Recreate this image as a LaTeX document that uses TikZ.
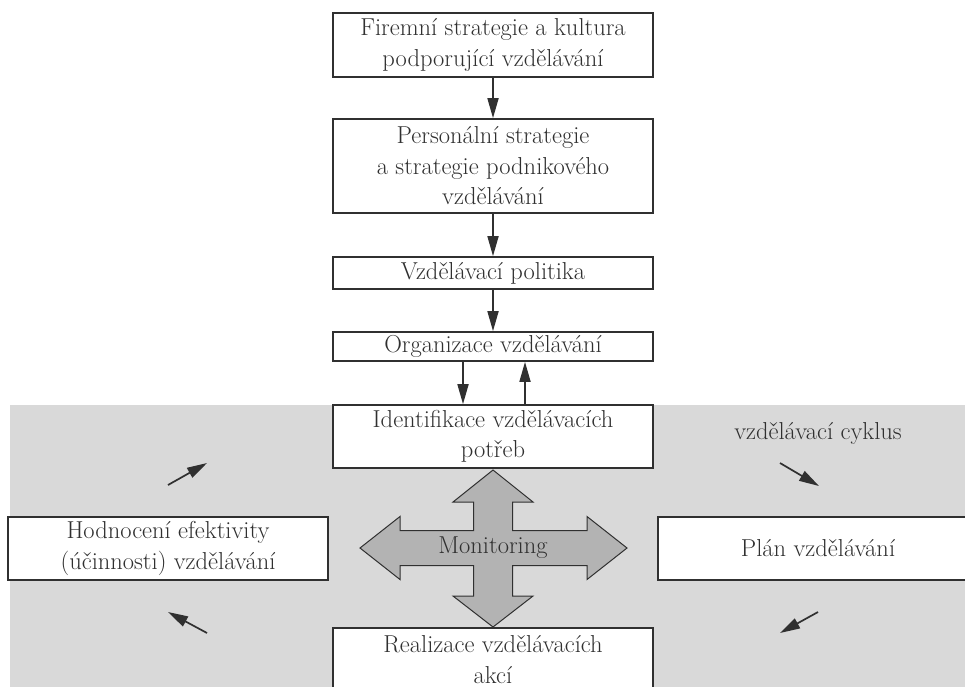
\documentclass[tikz,border=0pt]{standalone}
\usetikzlibrary{arrows.meta}
\definecolor{ink}{HTML}{303030}
\definecolor{cyclebg}{HTML}{D9D9D9}
\definecolor{crossfill}{HTML}{B3B3B3}

\begin{document}
\begin{tikzpicture}[x=1pt,y=-1pt,
  txt/.style={text=ink, font=\fontsize{24.5}{30.5}\selectfont, align=center, inner sep=0pt},
  box/.style={txt, draw=ink, line width=1.7pt, fill=white, minimum width=320pt},
  flow/.style={draw=ink, line width=1.7pt, -{Triangle[length=20pt,width=11pt]}},
  crossarrow/.style={draw=ink, line width=1pt, fill=crossfill, line join=miter},
]
\useasboundingbox (0,0) rectangle (965,686);
\clip (0,0) rectangle (965,686);

% shaded area of the training cycle
\fill[cyclebg] (10,405) rectangle (1000,720);

% top chain of boxes
\node[box, minimum height=64pt] (b1) at (493,45) {Firemní strategie a kultura\\podporující vzdělávání};
\node[box, minimum height=94pt] (b2) at (493,166) {Personální strategie\\a strategie podnikového\\vzdělávání};
\node[box, minimum height=32pt] (b3) at (493,273) {Vzdělávací politika};
\node[box, minimum height=29pt] (b4) at (493,346.5) {Organizace vzdělávání};

% the cycle
\node[box, minimum height=63pt] (ident) at (493,436.5) {Identifikace vzdělávacích\\potřeb};
\node[box, minimum height=63pt] (plan) at (818,548.5) {Plán vzdělávání};
\node[box, minimum height=63pt] (real) at (493,659.5) {Realizace vzdělávacích\\akcí};
\node[box, minimum height=63pt] (eval) at (168,548.5) {Hodnocení efektivity\\(účinnosti) vzdělávání};
\node[txt] (cycle) at (818,433) {vzdělávací cyklus};

% connectors of the chain
\draw[flow] (b1.south) -- (b2.north);
\draw[flow] (b2.south) -- (b3.north);
\draw[flow] (b3.south) -- (b4.north);
\draw[flow] ([xshift=-30pt]b4.south) -- ([xshift=-30pt]ident.north);
\draw[flow] ([xshift=32pt]ident.north) -- ([xshift=32pt]b4.south);

% direction marks of the cycle
\coordinate (trA) at (780,463); \coordinate (trB) at (819,486);
\coordinate (brA) at (818,612); \coordinate (brB) at (780,633);
\coordinate (blA) at (207,633); \coordinate (blB) at (168,612);
\coordinate (tlA) at (168,485); \coordinate (tlB) at (207,463);
\draw[flow] (trA) -- (trB);
\draw[flow] (brA) -- (brB);
\draw[flow] (blA) -- (blB);
\draw[flow] (tlA) -- (tlB);

% four-way monitoring arrow
\begin{scope}[shift={(493,548)}]
\draw[crossarrow]
  (0,-78) -- (40,-46) -- (19.5,-46) -- (19.5,-17.5) -- (94,-17.5) -- (94,-31.5)
  -- (134,0) -- (94,31.5) -- (94,17.5) -- (19.5,17.5) -- (19.5,48) -- (40,48)
  -- (0,79) -- (-40,48) -- (-19.5,48) -- (-19.5,17.5) -- (-93,17.5) -- (-93,31.5)
  -- (-133,0) -- (-93,-31.5) -- (-93,-17.5) -- (-19.5,-17.5) -- (-19.5,-46)
  -- (-40,-46) -- cycle;
\end{scope}
\node[txt] (mon) at (493,548) {Monitoring};
\end{tikzpicture}
\end{document}
